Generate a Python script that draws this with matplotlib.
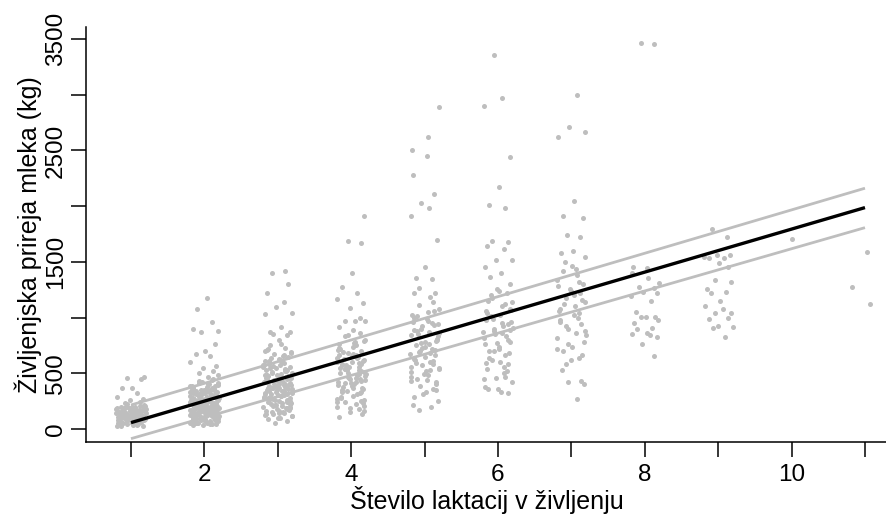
import numpy as np
import matplotlib
matplotlib.use("Agg")
import matplotlib.pyplot as plt

plt.rcParams['font.family'] = ['Liberation Sans', 'DejaVu Sans']

# lifetime milk yield (kg) by number of lactations
lact = [1, 2, 3, 4, 5, 6, 7, 8, 9, 10, 11]
yield_kg = {
    1: [25, 40, 55, 60, 70, 75, 80, 85, 90, 95, 100, 105, 110, 115, 120, 125, 130, 135,
        140, 145, 150, 155, 160, 165, 170, 175, 180, 185, 190, 195, 200, 210, 220, 30,
        50, 65, 78, 88, 98, 108, 118, 128, 138, 148, 158, 168, 178, 188, 198, 45, 62,
        83, 112, 142, 172, 205, 230, 245, 260, 270, 285, 320, 365, 365, 449, 461, 464,
        92, 132, 152, 35, 58, 72, 96, 103, 122, 137, 163, 182, 193, 48, 67, 87, 117,
        127, 147, 157, 177, 212, 28, 52, 68, 82, 101, 113, 133, 153, 171, 186],
    2: [35, 42, 50, 58, 65, 72, 80, 88, 95, 102, 110, 118, 125, 132, 140, 148, 155, 162,
        170, 178, 185, 192, 200, 208, 215, 222, 230, 238, 245, 252, 260, 268, 275, 282,
        290, 298, 305, 312, 320, 328, 335, 342, 350, 360, 370, 380, 390, 400, 415, 430,
        445, 38, 47, 55, 63, 70, 78, 86, 93, 100, 108, 116, 123, 130, 138, 146, 153, 160,
        168, 176, 183, 190, 198, 206, 213, 220, 228, 236, 243, 250, 258, 266, 273, 280,
        295, 310, 325, 340, 355, 375, 395, 420, 60, 90, 120, 150, 180, 210, 240, 270,
        300, 330, 105, 135, 165, 195, 225, 255, 285, 315, 145, 175, 205, 235,
        45, 53, 68, 76, 84, 97, 112, 127, 142, 157, 172, 187, 202, 217, 232, 247, 262,
        277, 292, 307, 322, 337, 352, 367, 385, 405, 52, 74, 98, 114, 134, 158, 186,
        218, 244, 264, 288, 318, 344, 366, 388, 410, 440, 62, 82, 104, 126, 152, 196,
        226, 256, 286, 346,
        470, 480, 500, 523, 550, 566, 600, 658, 673, 700, 763, 873, 882, 900, 963, 1075, 1173],
    3: [50, 70, 85, 100, 115, 130, 145, 160, 170, 180, 190, 200, 210, 220, 230, 240, 250,
        260, 270, 280, 290, 300, 310, 320, 330, 340, 350, 360, 370, 380, 390, 400, 410,
        420, 430, 440, 450, 460, 470, 480, 490, 500, 515, 530, 545, 560, 575, 590, 610,
        630, 650, 670, 690, 710, 730, 750, 95, 125, 155, 185, 215, 245, 275, 305, 335,
        365, 395, 425, 455, 485, 520, 555, 600, 640, 680, 720, 140, 175, 205, 235, 265,
        295, 325, 355, 385, 415, 445, 475, 505, 540, 585, 165, 225, 285, 345, 405, 465,
        525, 620, 700, 760, 120, 152, 188, 218, 248, 278, 308, 338, 368, 398, 428, 458,
        488, 518, 548, 578, 612, 655, 198, 262, 318, 372, 432, 492, 565, 660, 135, 245,
        352, 462, 572, 232, 312, 392, 472,
        799, 844, 853, 868, 868, 913, 1030, 1044, 1098, 1143, 1218, 1299, 1397, 1418],
    4: [110, 130, 150, 175, 200, 220, 240, 260, 280, 300, 320, 340, 360, 380, 400, 420,
        440, 460, 480, 500, 520, 540, 560, 580, 600, 620, 640, 660, 680, 700, 720, 740,
        760, 780, 800, 830, 860, 190, 230, 270, 310, 350, 390, 430, 470, 510, 550, 590,
        630, 670, 710, 750, 790, 840, 250, 330, 410, 490, 570, 650, 730, 365, 445, 525,
        605, 455, 535, 210, 290, 370, 450, 530, 610, 690, 770, 395, 475, 555, 635, 715,
        335, 415, 495, 575, 655, 160, 245, 425, 505, 585, 665,
        889, 913, 969, 971, 972, 994, 1089, 1134, 1164, 1218, 1278, 1403, 1667, 1690, 1912],
    5: [250, 290, 330, 360, 390, 420, 450, 480, 510, 540, 570, 600, 630, 660, 690, 720,
        750, 780, 810, 840, 870, 900, 930, 960, 990, 1020, 1050, 1080, 1110, 1140, 310,
        400, 470, 530, 590, 650, 710, 770, 830, 890, 950, 1010, 440, 560, 680, 800, 920,
        1060, 620, 740, 860, 170, 200, 215, 350, 490, 580, 670, 760, 850, 940, 1000,
        520, 610, 700, 790, 880, 970, 430, 550, 730,
        1188, 1220, 1224, 1263, 1350, 1352, 1457, 1697, 1912, 1981, 2026, 2110, 2277,
        2450, 2504, 2618, 2893],
    6: [330, 380, 420, 460, 500, 540, 580, 620, 660, 700, 740, 780, 820, 860, 900, 940,
        980, 1020, 1060, 1100, 1140, 1180, 1220, 1260, 1300, 450, 560, 640, 720, 800, 880,
        960, 1040, 1120, 1200, 600, 760, 920, 1080, 850, 320, 356, 358, 910, 990, 470,
        590, 680, 770, 830, 870, 950, 1010, 1070, 1150, 1240, 520, 700, 890,
        1362, 1403, 1452, 1514, 1517, 1613, 1643, 1675, 1690, 1986, 2011, 2170, 2437,
        2902, 2968, 3357],
    7: [580, 640, 700, 740, 780, 820, 860, 900, 940, 980, 1020, 1060, 1100, 1140, 1180,
        1220, 1260, 1300, 1340, 1380, 1420, 1460, 660, 760, 880, 960, 1040, 1120, 1200,
        1280, 269, 404, 425, 430, 530, 620, 840, 920, 1000, 1080, 1160, 1240, 1320, 720,
        1440,
        1496, 1547, 1580, 1601, 1721, 1742, 1897, 1915, 2050, 2624, 2669, 2714, 2998],
    8: [3462, 3453, 1451, 1442, 1398, 1352, 1308, 1278, 1266, 1233, 1224, 1194, 1152,
        1053, 1008, 1008, 1003, 979, 949, 904, 898, 859, 853, 844, 823, 760, 655],
    9: [1798, 1721, 1562, 1562, 1547, 1538, 1532, 1487, 1457, 1338, 1317, 1254, 1233,
        1224, 1152, 1104, 1080, 1039, 1039, 994, 985, 925, 919, 904, 823],
    10: [1706],
    11: [1592, 1272, 1119],
}

# jitter offsets along x (typed, cycled)
jitter = [-0.17, 0.05, 0.19, -0.08, 0.12, -0.02, 0.16, -0.19, 0.08, -0.12, 0.01, 0.14,
          -0.05, 0.18, -0.15, 0.10, -0.10, 0.03, -0.18, 0.07, 0.17, -0.04, 0.13, -0.13,
          0.00, 0.20, -0.07, 0.09, -0.16, 0.15, -0.01, 0.11, -0.20, 0.06, -0.09, 0.18,
          -0.14, 0.02, 0.12, -0.06, 0.16, -0.11, 0.04, -0.18, 0.19, -0.03, 0.08, -0.15,
          0.14, -0.08, 0.10, -0.12, 0.01, 0.17, -0.19, 0.06, -0.05, 0.13, -0.16, 0.03]

# fitted line and band
fit_x = [1, 11]
fit_y = [57, 1987]
band_hi = [215, 2161]
band_lo = [-87, 1807]

fig = plt.figure(figsize=(8.87, 5.17), dpi=100)
ax = fig.add_axes([86/887, 75/517, 801/887, 415/517])

xs, ys = [], []
for g in lact:
    for i, v in enumerate(yield_kg[g]):
        xs.append(g + jitter[(i + 7*g) % len(jitter)])
        ys.append(v)
ax.scatter(xs, ys, s=13, color="#BEBEBE", linewidths=0, zorder=1)

ax.plot(fit_x, band_hi, color="#BEBEBE", lw=2.0, zorder=2, solid_capstyle="butt")
ax.plot(fit_x, band_lo, color="#BEBEBE", lw=2.0, zorder=2, solid_capstyle="butt")
ax.plot(fit_x, fit_y, color="black", lw=2.4, zorder=3, solid_capstyle="butt")

ax.set_xlim(0.387, 11.30)
ax.set_ylim(-117, 3608)

ax.spines["top"].set_visible(False)
ax.spines["right"].set_visible(False)
ax.spines["left"].set_linewidth(1.1)
ax.spines["bottom"].set_linewidth(1.1)

ax.set_xticks(lact)
ax.set_xticklabels([str(v) if v % 2 == 0 else "" for v in lact], fontsize=17.5)
yt = list(range(0, 3501, 500))
ax.set_yticks(yt)
ax.set_yticklabels([str(v) if v in (0, 500, 1500, 2500, 3500) else "" for v in yt],
                   fontsize=17.5, rotation=90, va="center")
ax.tick_params(direction="out", length=10.5, width=1.1)
ax.tick_params(axis="x", pad=5)
ax.tick_params(axis="y", pad=3)

ax.set_xlabel("Število laktacij v življenju", fontsize=18, labelpad=0)
ax.set_ylabel("Življenjska prireja mleka (kg)", fontsize=18, labelpad=2)

fig.savefig("out.png", dpi=100)
